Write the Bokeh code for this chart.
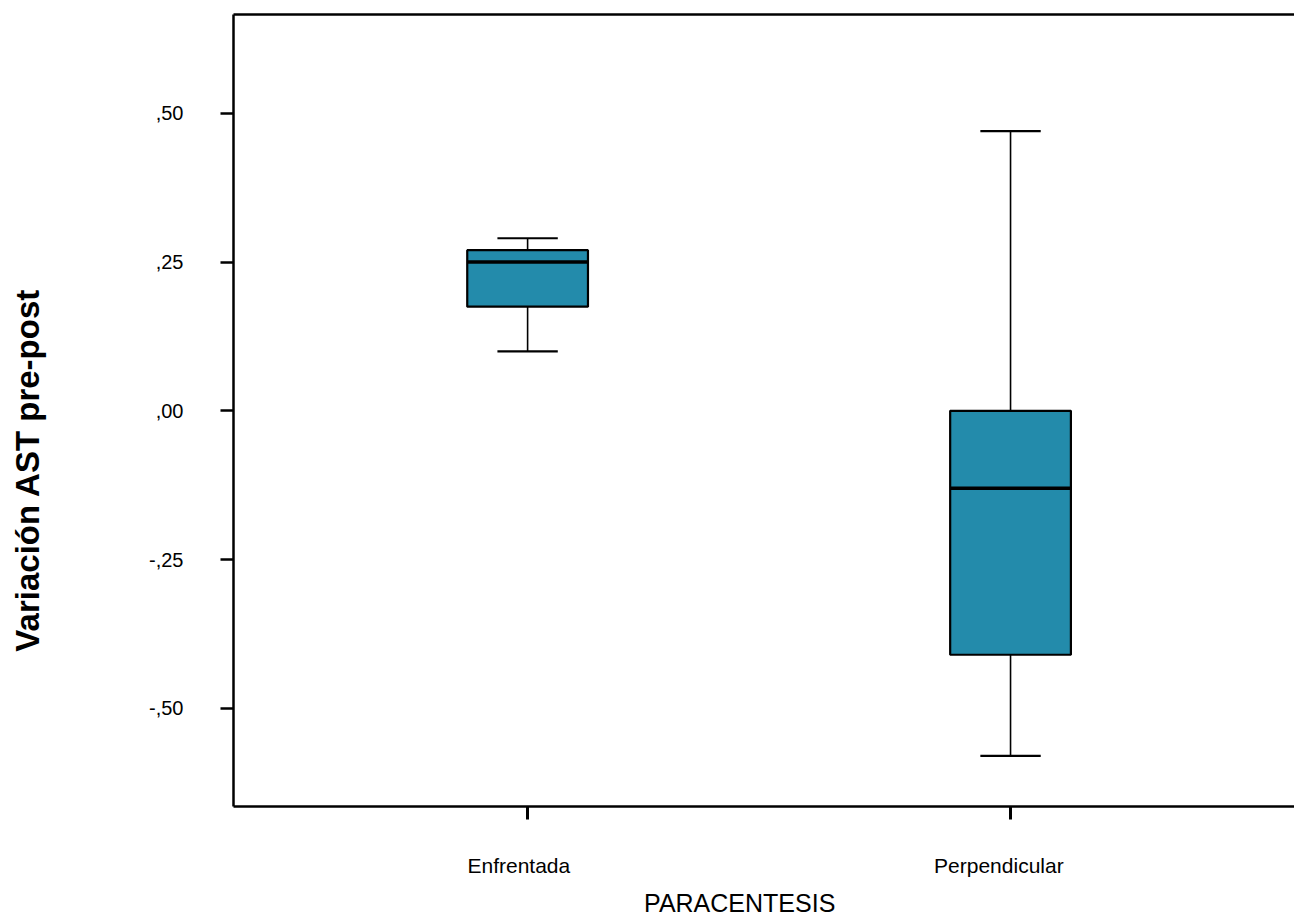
from bokeh.plotting import figure
from bokeh.models import Range1d, FixedTicker, LinearAxis, ColumnDataSource
from bokeh.embed import file_html
from bokeh.resources import INLINE

categories = ["Enfrentada", "Perpendicular"]
positions = [1, 2]
lower_whisker = [0.10, -0.58]
q1 = [0.175, -0.41]
median = [0.25, -0.13]
q3 = [0.27, 0.00]
upper_whisker = [0.29, 0.47]
y_ticks = [-0.50, -0.25, 0.0, 0.25, 0.50]
y_tick_labels = ["-,50", "-,25", ",00", ",25", ",50"]
x_title = "PARACENTESIS"
y_title = "Variación AST pre-post"

box_w = 0.25
cap_w = 0.125

# layout (pixels) and ranges
W, H = 1294, 920
FL, FT, FB = 233, 14, 806
X0, X1 = 0.391, 2.588
Y0, Y1 = -0.665, 0.666

# non-breaking spaces pad the labels so that their visible text sits where
# the original chart puts it (slightly off-centre)
NB = "\u00a0"

src = ColumnDataSource(dict(
    x=positions, lw=lower_whisker, q1=q1, med=median, q3=q3, uw=upper_whisker,
    cl=[p - cap_w / 2 for p in positions], cr=[p + cap_w / 2 for p in positions],
    bl=[p - box_w / 2 for p in positions], br=[p + box_w / 2 for p in positions],
))

p = figure(width=W, height=H, output_backend="svg", toolbar_location=None,
           x_range=Range1d(X0, X1), y_range=Range1d(Y0, Y1),
           min_border_left=FL, min_border_right=0, min_border_top=FT,
           min_border_bottom=H - FB)
p.outline_line_color = None
p.xgrid.visible = False
p.ygrid.visible = False
p.background_fill_color = "white"
p.border_fill_color = "white"

FONT = "Liberation Sans"

# whiskers
p.segment(x0="x", y0="q3", x1="x", y1="uw", source=src, line_color="black", line_width=1.6)
p.segment(x0="x", y0="lw", x1="x", y1="q1", source=src, line_color="black", line_width=1.6)
p.segment(x0="cl", y0="uw", x1="cr", y1="uw", source=src, line_color="black", line_width=2.2)
p.segment(x0="cl", y0="lw", x1="cr", y1="lw", source=src, line_color="black", line_width=2.2)
# boxes
p.vbar(x="x", width=box_w, top="q3", bottom="q1", source=src,
       fill_color="#238BAB", line_color="black", line_width=2.2)
# medians
p.segment(x0="bl", y0="med", x1="br", y1="med", source=src, line_color="black", line_width=3.5)

# y axis
ya = p.yaxis[0]
ya.ticker = FixedTicker(ticks=y_ticks)
ya.major_label_overrides = {t: l for t, l in zip(y_ticks, y_tick_labels)}
ya.minor_tick_line_color = None
ya.major_tick_in = 0
ya.major_tick_out = 13
ya.major_tick_line_width = 2.5
ya.axis_line_width = 2.5
ya.axis_line_color = "black"
ya.major_label_standoff = 37
ya.major_label_text_font = FONT
ya.major_label_text_font_size = "20px"
ya.major_label_text_color = "black"
ya.axis_label = y_title + NB * 13
ya.axis_label_text_font = FONT
ya.axis_label_text_font_style = "bold"
ya.axis_label_text_font_size = "33px"
ya.axis_label_text_color = "black"
ya.axis_label_standoff = 100

# x axis
xa = p.xaxis[0]
xa.ticker = FixedTicker(ticks=positions)
xa.major_label_overrides = {pos: c + NB * n for pos, c, n in zip(positions, categories, [3, 4])}
xa.minor_tick_line_color = None
xa.major_tick_in = 0
xa.major_tick_out = 13
xa.major_tick_line_width = 3
xa.axis_line_width = 2.5
xa.axis_line_color = "black"
xa.major_label_standoff = 34
xa.major_label_text_font = FONT
xa.major_label_text_font_size = "21px"
xa.major_label_text_color = "black"
xa.axis_label = x_title + NB * 7
xa.axis_label_text_font = FONT
xa.axis_label_text_font_style = "normal"
xa.axis_label_text_font_size = "25px"
xa.axis_label_text_color = "black"
xa.axis_label_standoff = 9

# top border line
top = LinearAxis(ticker=FixedTicker(ticks=[]), major_label_text_font_size="0px",
                 major_tick_line_color=None, minor_tick_line_color=None,
                 axis_line_width=2.5, axis_line_color="black")
p.add_layout(top, "above")

open("out.html", "w").write(file_html(p, INLINE))
